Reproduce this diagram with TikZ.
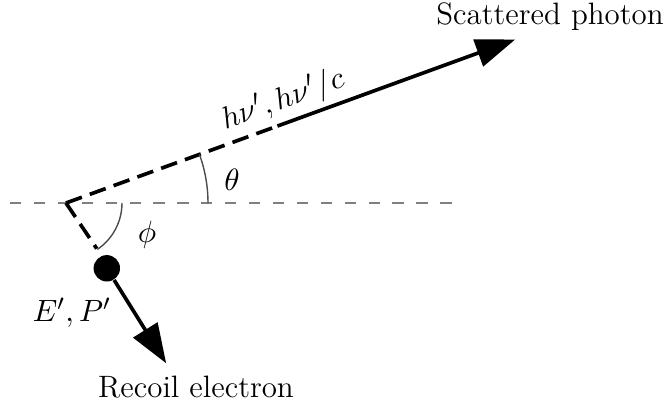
\documentclass[tikz,border=0pt]{standalone}
\usepackage{tikz}
\usetikzlibrary{arrows.meta,positioning,calc}

\begin{document}
\begin{tikzpicture}[x=0.0125cm,y=0.0125cm,
  axis/.style={gray,line width=0.6pt,dash pattern=on 4pt off 4.5pt},
  track/.style={line width=1.3pt,dash pattern=on 6pt off 3pt},
  ray/.style={line width=1.3pt,-{Triangle[length=14pt,width=10pt]}},
  angarc/.style={gray!60!black,line width=0.5pt},
  lbl/.style={font=\fontsize{11}{13}\selectfont}]
\useasboundingbox (0,0) rectangle (668,406);

\coordinate (O) at (66,203);
\coordinate (axL) at (10,203);
\coordinate (axR) at (455,203);
\draw[axis] (axL) -- (axR);

% scattered photon
\coordinate (brk) at ($(O)+(20:225)$);
\coordinate (ph) at ($(O)+(20:478)$);
\draw[track] (O) -- (brk);
\draw[ray] (brk) -- (ph);
\node[lbl] (scat) at (550,389) {Scattered photon};
\node[lbl,rotate=20] (hnu) at (283,306) {$h\nu', h\nu'/c$};

% recoil electron
\coordinate (ebrk) at ($(O)+(-56:55)$);
\node[circle,fill,inner sep=0pt,minimum size=0.33cm] (el) at ($(O)+(-58:77)$) {};
\coordinate (etip) at ($(O)+(-58:189)$);
\draw[track] (O) -- (ebrk);
\draw[ray] (el) -- (etip);
\node[lbl] (EP) at (72,93) {$E', P'$};
\node[lbl] (rec) at (196,19) {Recoil electron};

% angles
\draw[angarc] ($(O)+(0:142)$) arc[start angle=0,end angle=20,radius=1.775cm];
\draw[angarc] ($(O)+(0:56)$) arc[start angle=0,end angle=-56,radius=0.7cm];
\node[lbl] (th) at (232,226) {$\theta$};
\node[lbl] (phi) at (147,171) {$\phi$};
\end{tikzpicture}
\end{document}
